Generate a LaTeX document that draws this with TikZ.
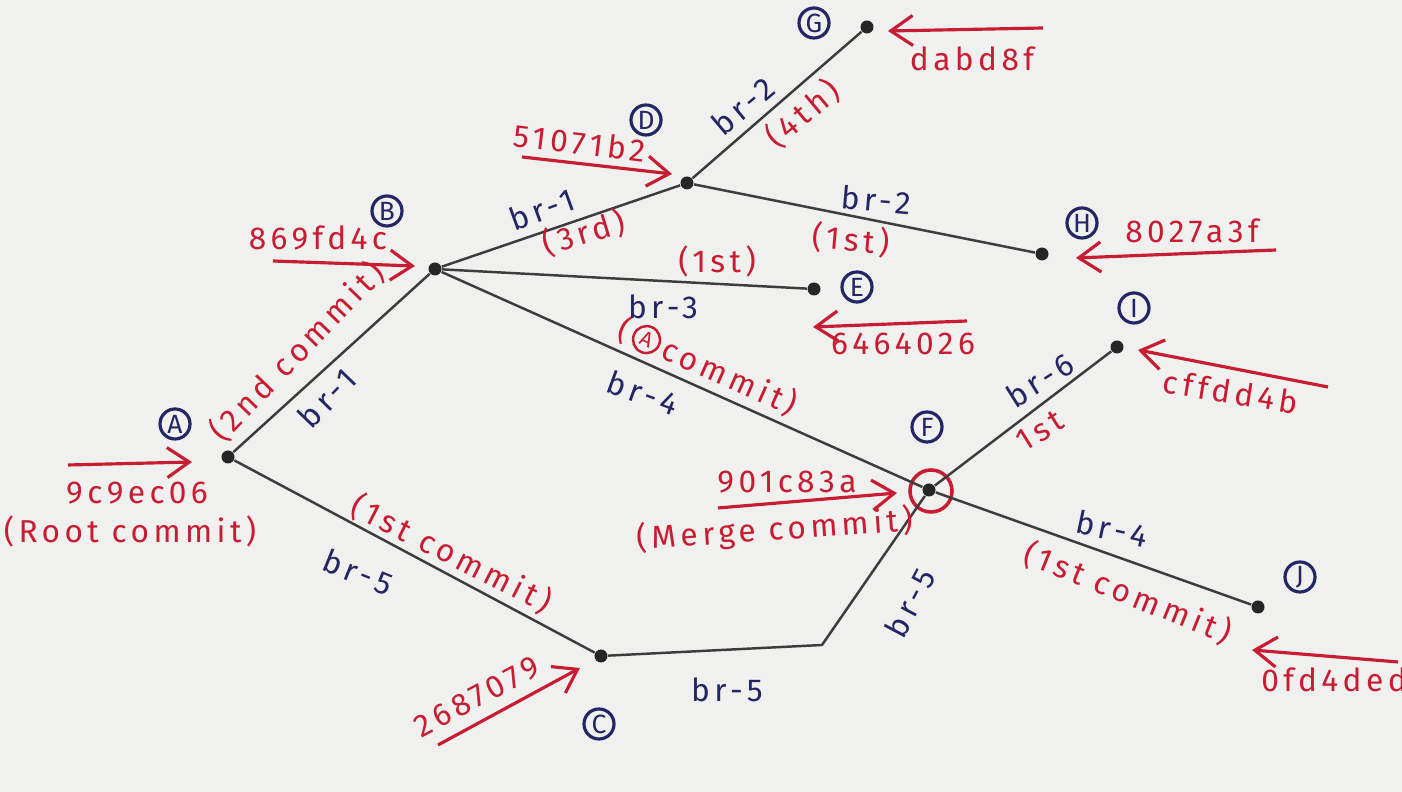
\documentclass[tikz,border=0pt]{standalone}
\usepackage{fontspec}
\setmainfont{Fira Sans}[LetterSpace=14]
\usetikzlibrary{arrows.meta}
\definecolor{ink}{RGB}{200,28,50}
\definecolor{navy}{RGB}{35,38,100}
\definecolor{pencil}{RGB}{60,60,60}
\definecolor{paper}{RGB}{240,240,238}
\tikzset{
  dotnode/.style={circle, fill=black!85, inner sep=0pt, minimum size=1.3mm},
  lbl/.style={circle, draw=navy, line width=0.9pt, inner sep=0pt, minimum size=3mm, text=navy, font=\fontsize{7.5}{8}\selectfont},
  brlbl/.style={text=navy, inner sep=1pt, font=\fontsize{9}{10}\selectfont},
  note/.style={text=ink, inner sep=1pt, font=\fontsize{9}{10}\selectfont},
  redcirc/.style={circle, draw=ink, line width=0.7pt, inner sep=0pt, minimum size=2.7mm, text=ink, font=\fontsize{6}{6}\selectfont},
  edge/.style={draw=pencil, line width=0.7pt},
  harrow/.style={draw=ink, line width=0.9pt, -{Straight Barb[length=2.2mm,width=3mm]}}
}
\begin{document}
\begin{tikzpicture}[x=0.01cm, y=-0.01cm]
\fill[paper] (0,0) rectangle (1402,792);
\useasboundingbox (0,0) rectangle (1402,792);

% commit dots
\node[dotnode] (nA) at (228,457) {};
\node[dotnode] (nB) at (435,269) {};
\node[dotnode] (nC) at (601,656) {};
\node[dotnode] (nD) at (687,183) {};
\node[dotnode] (nE) at (814,289) {};
\node[dotnode] (nF) at (929,490) {};
\node[dotnode] (nG) at (867,27) {};
\node[dotnode] (nH) at (1042,254) {};
\node[dotnode] (nI) at (1117,347) {};
\node[dotnode] (nJ) at (1258,607) {};
\coordinate (bend) at (822,645);
\node[circle, draw=ink, line width=1pt, minimum size=4.2mm, inner sep=0pt] (fring) at (931,491) {};

% edges
\draw[edge] (nA) -- (nB);
\draw[edge] (nA) -- (nC);
\draw[edge] (nB) -- (nD);
\draw[edge] (nD) -- (nG);
\draw[edge] (nD) -- (nH);
\draw[edge] (nB) -- (nE);
\draw[edge] (nB) -- (nF);
\draw[edge] (nF) -- (nJ);
\draw[edge] (nF) -- (nI);
\draw[edge] (nC) -- (bend) -- (nF);

% circled letters
\node[lbl] (lA) at (175,424) {A};
\node[lbl] (lB) at (387,211) {B};
\node[lbl] (lC) at (599,724) {C};
\node[lbl] (lD) at (646,120) {D};
\node[lbl] (lE) at (857,287) {E};
\node[lbl] (lF) at (927,427) {F};
\node[lbl] (lG) at (814,23) {G};
\node[lbl] (lH) at (1082,223) {H};
\node[lbl] (lI) at (1134,308) {I};
\node[lbl] (lJ) at (1300,577) {J};

% hash arrows
\coordinate (aA1) at (68,465);   \coordinate (aA2) at (192,462);
\coordinate (aB1) at (273,261);  \coordinate (aB2) at (415,266);
\coordinate (aD1) at (522,157);  \coordinate (aD2) at (672,174);
\coordinate (aG1) at (1043,28);  \coordinate (aG2) at (888,31);
\coordinate (aH1) at (1276,250); \coordinate (aH2) at (1076,258);
\coordinate (aE1) at (967,321);  \coordinate (aE2) at (813,327);
\coordinate (aI1) at (1328,387); \coordinate (aI2) at (1138,350);
\coordinate (aF1) at (718,508);  \coordinate (aF2) at (897,493);
\coordinate (aJ1) at (1398,662); \coordinate (aJ2) at (1252,650);
\coordinate (aC1) at (438,745);  \coordinate (aC2) at (580,668);
\draw[harrow] (aA1) -- (aA2);
\draw[harrow] (aB1) -- (aB2);
\draw[harrow] (aD1) -- (aD2);
\draw[harrow] (aG1) -- (aG2);
\draw[harrow] (aH1) -- (aH2);
\draw[harrow] (aE1) -- (aE2);
\draw[harrow] (aI1) -- (aI2);
\draw[harrow] (aF1) -- (aF2);
\draw[harrow] (aJ1) -- (aJ2);
\draw[harrow] (aC1) -- (aC2);

% hashes and notes (red)
\node[note] (hA) at (137,493) {9c9ec06};
\node[note] (rA) at (130,531) {(Root commit)};
\node[note] (hB) at (318,238) {869fd4c};
\node[note, rotate=46] (cB) at (297,352) {(2nd commit)};
\node[note, rotate=-7] (hD) at (580,143) {51071b2};
\node[note, rotate=40] (cG) at (803,114) {(4th)};
\node[note, rotate=17] (cD) at (584,233) {(3rd)};
\node[note] (hG) at (972,59) {dabd8f};
\node[note] (hH) at (1192,231) {8027a3f};
\node[note, rotate=-5] (cH) at (851,240) {(1st)};
\node[note] (cE) at (717,261) {(1st)};
\node[note] (hE) at (903,344) {6464026};
\node[note, rotate=-24, anchor=west] (cA4a) at (616,326) {(};
\node[redcirc, rotate=-24, anchor=west] (cA4b) at (cA4a.east) {A};
\node[note, rotate=-24, anchor=west] (cA4c) at (cA4b.east) {commit)};
\node[note, rotate=-9] (hI) at (1231,392) {cffdd4b};
\node[note, rotate=32] (cI) at (1040,431) {1st};
\node[note] (hF) at (787,482) {901c83a};
\node[note, rotate=4] (rF) at (775,530) {(Merge commit)};
\node[note, rotate=-22] (cJ) at (1128,593) {(1st commit)};
\node[note] (hJ) at (1334,680) {0fd4ded};
\node[note, rotate=-27] (cC) at (452,554) {(1st commit)};
\node[note, rotate=28] (hC) at (477,697) {2687079};

% branch labels (blue)
\node[brlbl, rotate=46] (b1a) at (327,398) {br-1};
\node[brlbl, rotate=20] (b1b) at (542,209) {br-1};
\node[brlbl, rotate=40] (b2a) at (743,106) {br-2};
\node[brlbl, rotate=-5] (b2b) at (876,200) {br-2};
\node[brlbl] (b3) at (663,307) {br-3};
\node[brlbl, rotate=-20] (b4a) at (643,393) {br-4};
\node[brlbl, rotate=-12] (b4b) at (1112,529) {br-4};
\node[brlbl, rotate=-22] (b5a) at (358,572) {br-5};
\node[brlbl] (b5b) at (727,690) {br-5};
\node[brlbl, rotate=62] (b5c) at (910,603) {br-5};
\node[brlbl, rotate=32] (b6) at (1040,380) {br-6};
\end{tikzpicture}
\end{document}
